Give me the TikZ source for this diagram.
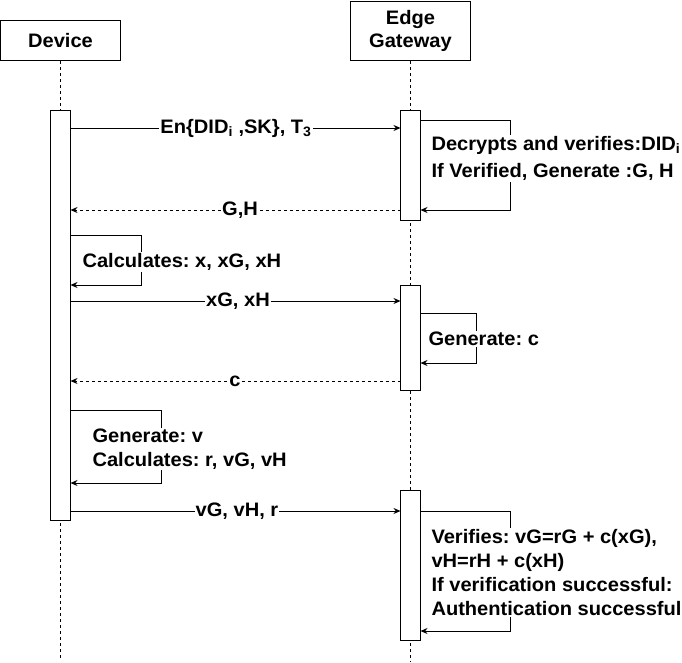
\documentclass[tikz,border=0pt]{standalone}
\usepackage{fontspec}
\setmainfont[FakeStretch=1.03]{Liberation Sans}
\usetikzlibrary{arrows.meta}
\frenchspacing
\begin{document}
\begin{tikzpicture}[x=1pt,y=-1pt,line width=1pt,
  headbox/.style={draw,minimum width=120pt,inner sep=0pt,align=center,font=\bfseries\fontsize{19.5}{23}\selectfont},
  actbox/.style={draw,fill=white,minimum width=20pt,inner sep=0pt},
  lifeline/.style={dash pattern=on 3pt off 3pt,line width=0.8pt},
  msg/.style={-{Stealth[length=7pt,width=6pt]}},
  reply/.style={msg,dash pattern=on 3pt off 3pt},
  lbl/.style={fill=white,inner sep=1pt,font=\bfseries\fontsize{19.5}{23}\selectfont},
  note/.style={fill=white,inner sep=1pt,align=left,anchor=west}
]
\useasboundingbox (0,0) rectangle (682,662);
% heads
\node[headbox,minimum height=40pt,anchor=north] (dev) at (60.5,20) {Device};
\node[headbox,minimum height=59.5pt,anchor=north] (gw) at (410.5,0.5) {Edge\\Gateway};
% lifelines
\coordinate (devend) at (60.5,660);
\coordinate (gwend) at (410.5,662);
\draw[lifeline] (dev.south) -- (devend);
\draw[lifeline] (gw.south) -- (gwend);
% activation boxes
\node[actbox,minimum height=410pt,anchor=north] (da) at (60.5,110) {};
\node[actbox,minimum height=110pt,anchor=north] (ga1) at (410.5,110) {};
\node[actbox,minimum height=105pt,anchor=north] (ga2) at (410.5,285) {};
\node[actbox,minimum height=150pt,anchor=north] (ga3) at (410.5,490) {};
% message coordinates
\coordinate (m1a) at (70.5,128);  \coordinate (m1b) at (400.5,128);
\coordinate (l1a) at (420.5,120); \coordinate (l1b) at (510,120);
\coordinate (l1c) at (510,210);   \coordinate (l1d) at (420.5,210);
\coordinate (m2a) at (400.5,210); \coordinate (m2b) at (70.5,210);
\coordinate (l2a) at (70.5,235);  \coordinate (l2b) at (141,235);
\coordinate (l2c) at (141,285);   \coordinate (l2d) at (70.5,285);
\coordinate (m3a) at (70.5,301);  \coordinate (m3b) at (400.5,301);
\coordinate (l3a) at (420.5,313); \coordinate (l3b) at (476,313);
\coordinate (l3c) at (476,363);   \coordinate (l3d) at (420.5,363);
\coordinate (m4a) at (400.5,381); \coordinate (m4b) at (70.5,381);
\coordinate (l4a) at (70.5,410);  \coordinate (l4b) at (161,410);
\coordinate (l4c) at (161,483);   \coordinate (l4d) at (70.5,483);
\coordinate (m5a) at (70.5,511);  \coordinate (m5b) at (400.5,511);
\coordinate (l5a) at (420.5,511); \coordinate (l5b) at (510,511);
\coordinate (l5c) at (510,631);   \coordinate (l5d) at (420.5,631);
% messages
\draw[msg] (m1a) -- (m1b);
\draw[msg] (l1a) -- (l1b) -- (l1c) -- (l1d);
\draw[reply] (m2a) -- (m2b);
\draw[msg] (l2a) -- (l2b) -- (l2c) -- (l2d);
\draw[msg] (m3a) -- (m3b);
\draw[msg] (l3a) -- (l3b) -- (l3c) -- (l3d);
\draw[reply] (m4a) -- (m4b);
\draw[msg] (l4a) -- (l4b) -- (l4c) -- (l4d);
\draw[msg] (m5a) -- (m5b);
\draw[msg] (l5a) -- (l5b) -- (l5c) -- (l5d);
% labels
\node[lbl] (t1) at (236,128) {En\{DID\textsubscript{i} ,SK\}, T\textsubscript{3}};
\node[lbl,note,font=\bfseries\fontsize{19.5}{27}\selectfont] (t2) at (430,158.5) {Decrypts and verifies:DID\textsubscript{i}\\If Verified, Generate :G, H};
\node[lbl] (t3) at (240,210) {G,H};
\node[lbl,note] (t4) at (81,262) {Calculates: x, xG, xH};
\node[lbl,note] (t6) at (427,339) {Generate: c};
\node[lbl] (t5) at (238,301) {xG, xH};
\node[lbl] (t7) at (235,381) {c};
\node[lbl,note,font=\bfseries\fontsize{19.5}{24}\selectfont] (t8) at (91,449) {Generate: v\\Calculates: r, vG, vH};
\node[lbl] (t9) at (237,511) {vG, vH, r};
\node[lbl,note,font=\bfseries\fontsize{19.5}{24.3}\selectfont] (t10) at (430,572.5) {Verifies: vG=rG + c(xG),\\vH=rH + c(xH)\\If verification successful:\\Authentication successful};
\end{tikzpicture}
\end{document}
